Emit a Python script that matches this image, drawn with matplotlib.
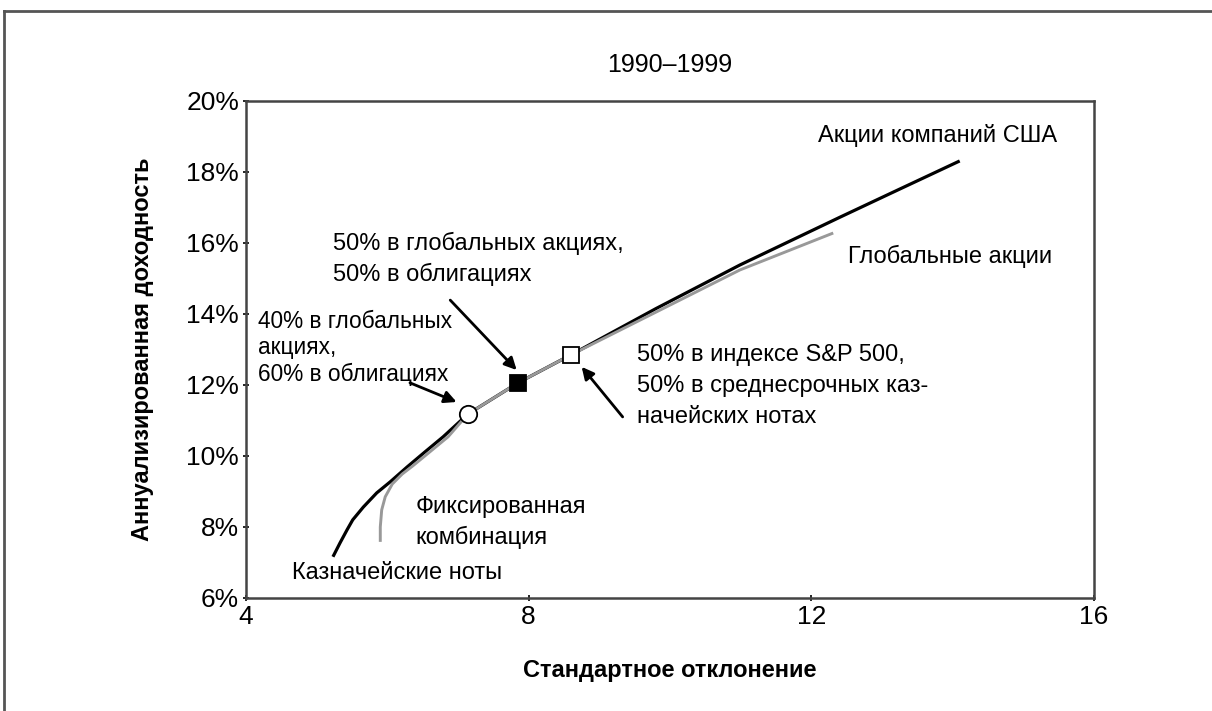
import matplotlib.pyplot as plt
from matplotlib.lines import Line2D

plt.rcParams['font.family'] = ['Liberation Sans', 'DejaVu Sans']

# кривые риск/доходность, 1990-1999
us_x = [5.23, 5.33, 5.43, 5.51, 5.66, 5.85, 6.04, 6.28, 6.53, 6.79, 7.14, 7.85, 8.60, 9.8, 10.99, 12.41, 13.2, 14.10]
us_y = [7.16, 7.55, 7.92, 8.20, 8.56, 8.96, 9.27, 9.69, 10.11, 10.54, 11.18, 12.06, 12.85, 14.15, 15.38, 16.73, 17.47, 18.31]
gl_x = [5.90, 5.90, 5.92, 5.97, 6.07, 6.21, 6.36, 6.58, 6.86, 7.14, 7.85, 8.60, 9.8, 10.99, 12.31]
gl_y = [7.58, 8.00, 8.48, 8.85, 9.21, 9.49, 9.72, 10.08, 10.54, 11.18, 12.06, 12.85, 14.05, 15.24, 16.28]

pts_x = [7.14, 7.85, 8.60]   # 40/60, 50/50 global, 50/50 S&P
pts_y = [11.18, 12.06, 12.85]

xticks = [4, 8, 12, 16]
yticks = [6, 8, 10, 12, 14, 16, 18, 20]

fig = plt.figure(figsize=(12.12, 7.11), dpi=100)
ax = fig.add_axes([0.203, 0.159, 0.6996, 0.699])

ax.plot(us_x, us_y, color='black', lw=2.3, zorder=2, solid_capstyle='butt', solid_joinstyle='round')
ax.plot(gl_x, gl_y, color='#999999', lw=2.1, zorder=3, solid_capstyle='butt', solid_joinstyle='round')

ax.plot(pts_x[0], pts_y[0], 'o', ms=12.5, mfc='white', mec='black', mew=1.3, zorder=5)
ax.plot(pts_x[1], pts_y[1], 's', ms=11, mfc='black', mec='black', mew=1.3, zorder=5)
ax.plot(pts_x[2], pts_y[2], 's', ms=11.5, mfc='white', mec='black', mew=1.3, zorder=5)

ax.set_xlim(4, 16)
ax.set_ylim(6, 20)
ax.set_xticks(xticks)
ax.set_yticks(yticks)
ax.set_xticklabels([str(v) for v in xticks], fontsize=19)
ax.set_yticklabels([f'{v}%' for v in yticks], fontsize=19)
ax.tick_params(length=4, width=1.2, direction='inout', pad=3)
for s in ax.spines.values():
    s.set_color('#444444')
    s.set_linewidth(1.8)

ax.set_xlabel('Стандартное отклонение', fontsize=17, fontweight='bold', labelpad=22)
ax.set_ylabel('Аннуализированная доходность', fontsize=17, fontweight='bold', labelpad=23)
ax.set_title('1990–1999', fontsize=18, pad=21)

fs = 17
arr = dict(arrowstyle='-|>', color='black', lw=2, mutation_scale=18, shrinkA=0, shrinkB=0)

ax.text(5.23, 16.31, '50% в глобальных акциях,\n50% в облигациях', fontsize=fs,
        va='top', ha='left', linespacing=1.45)
ax.annotate('', xy=(7.83, 12.42), xytext=(6.89, 14.39), arrowprops=arr)

ax.text(4.17, 14.12, '40% в глобальных\nакциях,\n60% в облигациях', fontsize=16.3,
        va='top', ha='left', linespacing=1.19)
ax.annotate('', xy=(6.98, 11.52), xytext=(6.32, 12.06), arrowprops=arr)

ax.text(9.53, 13.15, '50% в индексе S&P 500,\n50% в среднесрочных каз-\nначейских нотах',
        fontsize=fs, va='top', ha='left', linespacing=1.52)
ax.annotate('', xy=(8.75, 12.51), xytext=(9.33, 11.10), arrowprops=arr)

ax.text(6.40, 8.87, 'Фиксированная\nкомбинация', fontsize=fs, va='top', ha='left', linespacing=1.42)
ax.text(4.65, 6.7, 'Казначейские ноты', fontsize=fs, va='center', ha='left')
ax.text(12.09, 19.04, 'Акции компаний США', fontsize=fs, va='center', ha='left')
ax.text(12.52, 15.61, 'Глобальные акции', fontsize=fs, va='center', ha='left')

# рамка вокруг рисунка
fig.add_artist(Line2D([4 / 1212, 1], [1 - 11 / 711, 1 - 11 / 711], color='#555555', lw=2))
fig.add_artist(Line2D([4 / 1212, 4 / 1212], [0, 1 - 11 / 711], color='#555555', lw=2))

fig.savefig('out.png', dpi=100)
